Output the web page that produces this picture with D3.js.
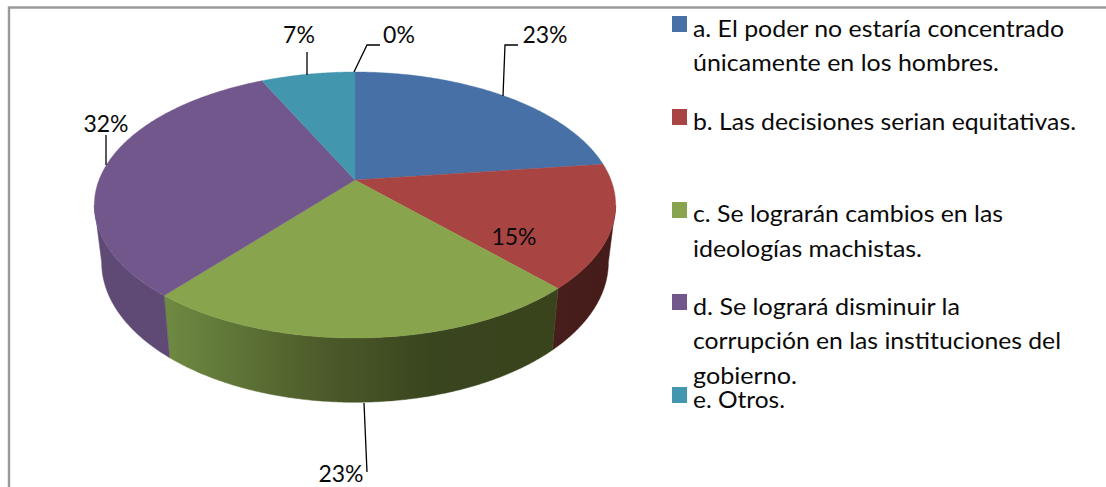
<!DOCTYPE html>
<html><head><meta charset="utf-8">
<script src="https://cdn.jsdelivr.net/npm/d3@7"></script>
<style>html,body{margin:0;padding:0;background:#fff}svg{display:block}text{font-family:Lato,"Open Sans",sans-serif;fill:#0a0a0a}</style>
</head><body><div id="c"></div>
<script>
const categories = ["a","b","c","d","e","f"];
const values = [23,15,23,32,7,0];
const labels = ["23%","15%","23%","32%","7%","0%"];
const colors = ["#4770a6","#a84442","#88a44d","#72578c","#4296ae","#d9853a"];
const legendItems = [
 {key:"a",lines:["a. El poder no estaría concentrado","únicamente en los hombres."]},
 {key:"b",lines:["b. Las decisiones serian equitativas."]},
 {key:"c",lines:["c. Se lograrán cambios en las","ideologías machistas."]},
 {key:"d",lines:["d. Se logrará disminuir la","corrupción en las instituciones del","gobierno."]},
 {key:"e",lines:["e. Otros."]}
];
const legendSwatchY = [16,109,202,294,387];
const legendText = {a:[37,71],b:[130],c:[222,257],d:[315,349,384],e:[408]};
const legendWidths = {"a. El poder no estaría concentrado":371,"únicamente en los hombres.":306,"b. Las decisiones serian equitativas.":383,"c. Se lograrán cambios en las":310,"ideologías machistas.":229,"d. Se logrará disminuir la":267,"corrupción en las instituciones del":368,"gobierno.":104,"e. Otros.":92};

const W=1106,H=487,cx=355,cy=180,R=256,S=128.3,p=0.188;
const svg=d3.select("#c").append("svg").attr("width",W).attr("height",H);
const pie=d3.pie().value(d=>d).sort(null);
const arcs=pie(values);
const topPt=a=>{const u=Math.sin(a),v=Math.cos(a),w=1+p*v;return [cx+R*u/w,cy-S*v/w];};
const lowPt=a=>{const u=Math.sin(a),v=Math.cos(a),w=1+p*v;return [cx+0.972*R*u/w,236-135*v/w];};
const line=d3.line();
const samples=(a0,a1)=>{const n=Math.max(2,Math.ceil((a1-a0)/0.01));return d3.range(n+1).map(i=>a0+(a1-a0)*i/n);};

// frame
svg.append("path").attr("d",`M9,${H} V7.5 H${W}`).attr("fill","none").attr("stroke","#9a9a9a").attr("stroke-width",2.4);

// gradients for the front wall
const defs=svg.append("defs");
const sideStops=[
 {i:2,g:[[0,"#6f8a42"],[0.4,"#4c5b2a"],[0.68,"#39451e"],[1,"#39441d"]]},
 {i:1,g:[[0,"#451c1a"],[1,"#481e1c"]]},
 {i:3,g:[[0,"#5f4a76"],[1,"#5d4873"]]}
];
sideStops.forEach(s=>{
 const g=defs.append("linearGradient").attr("id","side"+s.i).attr("gradientUnits","userSpaceOnUse")
  .attr("x1",topPt(arcs[s.i].startAngle)[0]).attr("x2",topPt(arcs[s.i].endAngle)[0]).attr("y1",0).attr("y2",0);
 if(s.i===2){g.attr("x1",topPt(arcs[2].endAngle)[0]).attr("x2",topPt(arcs[2].startAngle)[0]);}
 s.g.forEach(([o,c])=>g.append("stop").attr("offset",o).attr("stop-color",c));
});

// side walls: visible part of the rim runs between its widest points
const wall=(i,a0,a1)=>{const as=samples(a0,a1);
 const pts=as.map(topPt).concat(as.slice().reverse().map(lowPt));
 svg.append("path").attr("d",line(pts)+"Z").attr("fill",`url(#side${i})`).attr("stroke",`url(#side${i})`).attr("stroke-width",0.5);};
const rightLimit=Math.acos(-p), leftLimit=2*Math.PI-rightLimit;
wall(1,rightLimit,arcs[1].endAngle);
wall(2,arcs[2].startAngle,arcs[2].endAngle);
wall(3,arcs[3].startAngle,leftLimit);

// top slices
arcs.forEach((d,i)=>{ if(d.endAngle-d.startAngle<1e-6) return;
 const pts=[[cx,cy]].concat(samples(d.startAngle,d.endAngle).map(topPt));
 svg.append("path").attr("d",line(pts)+"Z").attr("fill",colors[i]).attr("stroke",colors[i]).attr("stroke-width",0.4);
});

// leader lines
const leaders=[
 [[503,96],[505,45],[518,45]],
 [[364,403],[367,472]],
 [[106,165],[106,135]],
 [[307,75],[307,52]],
 [[354,72],[367,45],[380,45]]
];
leaders.forEach(l=>svg.append("path").attr("d",line(l)).attr("fill","none").attr("stroke","#000").attr("stroke-width",1.3));

// data labels
const labelPos=[[545,43],[514,245],[341,482],[106,132],[299,43],[399,43]];
labels.forEach((t,i)=>svg.append("text").attr("x",labelPos[i][0]).attr("y",labelPos[i][1]).attr("text-anchor","middle").attr("font-size",23).text(t));

// legend
legendItems.forEach((it,i)=>{
 svg.append("rect").attr("x",672).attr("y",legendSwatchY[i]).attr("width",15).attr("height",16).attr("fill",colors[i]);
 it.lines.forEach((t,j)=>{
  svg.append("text").attr("x",693).attr("y",legendText[it.key][j]).attr("font-size",22.5)
   .attr("textLength",legendWidths[t]).attr("lengthAdjust","spacingAndGlyphs").text(t);
 });
});
</script></body></html>
